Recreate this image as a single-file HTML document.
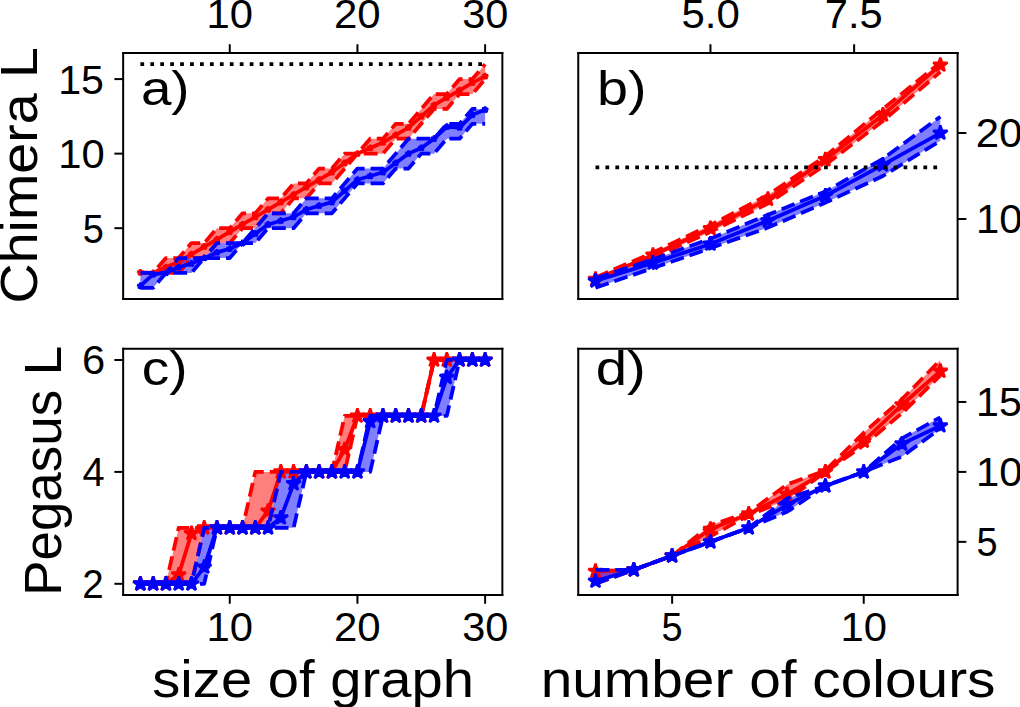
<!DOCTYPE html>
<html><head><meta charset="utf-8"><title>Chimera and Pegasus L</title>
<style>html,body{margin:0;padding:0;background:#fff;width:1020px;height:707px;overflow:hidden}svg{display:block}</style>
</head><body>
<svg width="1020" height="707" viewBox="0 0 408 282.8">
<defs>
<style type="text/css">*{stroke-linejoin: round; stroke-linecap: butt}</style>
</defs>
<g id="figure_1">
<g id="patch_1">
<path d="M 0 282.8 L 408 282.8 L 408 0 L 0 0 z
" style="fill: #ffffff"/>
</g>
<g id="axes_1">
<g id="patch_2">
<path d="M 49.26 119.6 L 200.94 119.6 L 200.94 21.2 L 49.26 21.2 z
" style="fill: #ffffff"/>
</g>
<g id="FillBetweenPolyCollection_1">
<defs>
<path id="md21ab41427" d="M 56.154545 -173.636364 L 56.154545 -173.636364 L 61.261616 -173.636364 L 66.368687 -173.636364 L 71.475758 -173.636364 L 76.582828 -179.6 L 81.689899 -179.6 L 86.79697 -185.563636 L 91.90404 -185.563636 L 97.011111 -191.527273 L 102.118182 -191.527273 L 107.225253 -197.490909 L 112.332323 -197.490909 L 117.439394 -203.454545 L 122.546465 -203.454545 L 127.653535 -209.418182 L 132.760606 -209.418182 L 137.867677 -215.381818 L 142.974747 -221.345455 L 148.081818 -221.345455 L 153.188889 -221.345455 L 158.29596 -227.309091 L 163.40303 -227.309091 L 168.510101 -233.272727 L 173.617172 -239.236364 L 178.724242 -239.236364 L 183.831313 -245.2 L 188.938384 -245.2 L 194.045455 -251.163636 L 194.045455 -257.127273 L 194.045455 -257.127273 L 188.938384 -251.163636 L 183.831313 -251.163636 L 178.724242 -245.2 L 173.617172 -245.2 L 168.510101 -239.236364 L 163.40303 -233.272727 L 158.29596 -233.272727 L 153.188889 -227.309091 L 148.081818 -227.309091 L 142.974747 -221.345455 L 137.867677 -221.345455 L 132.760606 -215.381818 L 127.653535 -215.381818 L 122.546465 -209.418182 L 117.439394 -209.418182 L 112.332323 -203.454545 L 107.225253 -203.454545 L 102.118182 -197.490909 L 97.011111 -197.490909 L 91.90404 -191.527273 L 86.79697 -191.527273 L 81.689899 -185.563636 L 76.582828 -185.563636 L 71.475758 -179.6 L 66.368687 -179.6 L 61.261616 -173.636364 L 56.154545 -173.636364 z
"/>
</defs>
<g clip-path="url(#p744a0eb53a)">
<use href="#md21ab41427" x="0" y="282.8" style="fill: #ff0000; fill-opacity: 0.5"/>
</g>
</g>
<g id="FillBetweenPolyCollection_2">
<defs>
<path id="m443bd4e529" d="M 56.154545 -173.636364 L 56.154545 -167.672727 L 61.261616 -167.672727 L 66.368687 -173.636364 L 71.475758 -173.636364 L 76.582828 -173.636364 L 81.689899 -179.6 L 86.79697 -179.6 L 91.90404 -179.6 L 97.011111 -185.563636 L 102.118182 -185.563636 L 107.225253 -191.527273 L 112.332323 -191.527273 L 117.439394 -191.527273 L 122.546465 -197.490909 L 127.653535 -197.490909 L 132.760606 -197.490909 L 137.867677 -203.454545 L 142.974747 -209.418182 L 148.081818 -209.418182 L 153.188889 -209.418182 L 158.29596 -215.381818 L 163.40303 -215.381818 L 168.510101 -221.345455 L 173.617172 -221.345455 L 178.724242 -227.309091 L 183.831313 -227.309091 L 188.938384 -233.272727 L 194.045455 -233.272727 L 194.045455 -239.236364 L 194.045455 -239.236364 L 188.938384 -239.236364 L 183.831313 -233.272727 L 178.724242 -233.272727 L 173.617172 -227.309091 L 168.510101 -227.309091 L 163.40303 -227.309091 L 158.29596 -221.345455 L 153.188889 -215.381818 L 148.081818 -215.381818 L 142.974747 -215.381818 L 137.867677 -209.418182 L 132.760606 -203.454545 L 127.653535 -203.454545 L 122.546465 -203.454545 L 117.439394 -197.490909 L 112.332323 -197.490909 L 107.225253 -197.490909 L 102.118182 -191.527273 L 97.011111 -185.563636 L 91.90404 -185.563636 L 86.79697 -185.563636 L 81.689899 -179.6 L 76.582828 -179.6 L 71.475758 -179.6 L 66.368687 -173.636364 L 61.261616 -173.636364 L 56.154545 -173.636364 z
"/>
</defs>
<g clip-path="url(#p744a0eb53a)">
<use href="#m443bd4e529" x="0" y="282.8" style="fill: #0000ff; fill-opacity: 0.5"/>
</g>
</g>
<g id="matplotlib.axis_1">
<g id="xtick_1">
<g id="line2d_1">
<defs>
<path id="mb712737b93" d="M 0 0 L 0 -3.5 " style="stroke: #000000; stroke-width: 0.8"/>
</defs>
<g>
<use href="#mb712737b93" x="91.90404" y="21.2" style="stroke: #000000; stroke-width: 0.8"/>
</g>
</g>
<g id="text_1">
<text style='font-size:16.260px;font-family:"Liberation Sans",sans-serif' x="82.598" y="11.039" transform="rotate(-0 91.90404 11.038875)" textLength="18.577" lengthAdjust="spacingAndGlyphs">10</text>
</g>
</g>
<g id="xtick_2">
<g id="line2d_2">
<g>
<use href="#mb712737b93" x="142.974747" y="21.2" style="stroke: #000000; stroke-width: 0.8"/>
</g>
</g>
<g id="text_2">
<text style='font-size:16.260px;font-family:"Liberation Sans",sans-serif' x="133.577" y="11.039" transform="rotate(-0 142.974747 11.038875)" textLength="18.672" lengthAdjust="spacingAndGlyphs">20</text>
</g>
</g>
<g id="xtick_3">
<g id="line2d_3">
<g>
<use href="#mb712737b93" x="194.045455" y="21.2" style="stroke: #000000; stroke-width: 0.8"/>
</g>
</g>
<g id="text_3">
<text style='font-size:16.260px;font-family:"Liberation Sans",sans-serif' x="184.861" y="11.039" transform="rotate(-0 194.045455 11.038875)" textLength="18.452" lengthAdjust="spacingAndGlyphs">30</text>
</g>
</g>
</g>
<g id="matplotlib.axis_2">
<g id="ytick_1">
<g id="line2d_4">
<defs>
<path id="m218b491fcb" d="M 0 0 L -3.5 0 " style="stroke: #000000; stroke-width: 0.8"/>
</defs>
<g>
<use href="#m218b491fcb" x="49.26" y="91.272727" style="stroke: #000000; stroke-width: 0.8"/>
</g>
</g>
<g id="text_4">
<text style='font-size:16.204px;font-family:"Liberation Sans",sans-serif' x="33.131" y="97.048" transform="rotate(-0 42.26 97.04754)" textLength="8.424" lengthAdjust="spacingAndGlyphs">5</text>
</g>
</g>
<g id="ytick_2">
<g id="line2d_5">
<g>
<use href="#m218b491fcb" x="49.26" y="61.454545" style="stroke: #000000; stroke-width: 0.8"/>
</g>
</g>
<g id="text_5">
<text style='font-size:16.260px;font-family:"Liberation Sans",sans-serif' x="23.283" y="67.229" transform="rotate(-0 42.26 67.229358)" textLength="18.577" lengthAdjust="spacingAndGlyphs">10</text>
</g>
</g>
<g id="ytick_3">
<g id="line2d_6">
<g>
<use href="#m218b491fcb" x="49.26" y="31.636364" style="stroke: #000000; stroke-width: 0.8"/>
</g>
</g>
<g id="text_6">
<text style='font-size:16.204px;font-family:"Liberation Sans",sans-serif' x="23.298" y="37.411" transform="rotate(-0 42.26 37.411176)" textLength="18.299" lengthAdjust="spacingAndGlyphs">15</text>
</g>
</g>
<g id="text_7">
<text style='font-size:21.088px;font-family:"Liberation Sans",sans-serif' x="-36.230" y="70.400" transform="rotate(-90 14.758625 70.4)" textLength="102.575" lengthAdjust="spacingAndGlyphs">Chimera L</text>
</g>
</g>
<g id="line2d_7">
<path d="M 56.154545 109.163636 L 61.261616 109.163636 L 66.368687 109.163636 L 71.475758 109.163636 L 76.582828 103.2 L 81.689899 103.2 L 86.79697 97.236364 L 91.90404 97.236364 L 97.011111 91.272727 L 102.118182 91.272727 L 107.225253 85.309091 L 112.332323 85.309091 L 117.439394 79.345455 L 122.546465 79.345455 L 127.653535 73.381818 L 132.760606 73.381818 L 137.867677 67.418182 L 142.974747 61.454545 L 148.081818 61.454545 L 153.188889 61.454545 L 158.29596 55.490909 L 163.40303 55.490909 L 168.510101 49.527273 L 173.617172 43.563636 L 178.724242 43.563636 L 183.831313 37.6 L 188.938384 37.6 L 194.045455 31.636364 " clip-path="url(#p744a0eb53a)" style="fill: none; stroke-dasharray: 5.55,2.4; stroke-dashoffset: 0; stroke: #ff0000; stroke-width: 1.5"/>
</g>
<g id="line2d_8">
<path d="M 56.154545 108.984727 L 61.261616 109.163636 L 66.368687 106.927273 L 71.475758 104.690909 L 76.582828 101.709091 L 81.689899 98.727273 L 86.79697 95.745455 L 91.90404 92.763636 L 97.011111 89.781818 L 102.118182 86.8 L 107.225253 83.818182 L 112.332323 80.836364 L 117.439394 77.854545 L 122.546465 74.872727 L 127.653535 71.890909 L 132.760606 68.909091 L 137.867677 65.181818 L 142.974747 61.454545 L 148.081818 59.218182 L 153.188889 56.981818 L 158.29596 54 L 163.40303 51.018182 L 168.510101 46.545455 L 173.617172 42.072727 L 178.724242 39.090909 L 183.831313 36.109091 L 188.938384 33.127273 L 194.045455 30.503273 " clip-path="url(#p744a0eb53a)" style="fill: none; stroke: #ff0000; stroke-width: 1.5; stroke-linecap: square"/>
<defs>
<path id="mcded86d60b" d="M 0 -1.25 L -0.280642 -0.386271 L -1.188821 -0.386271 L -0.454089 0.147542 L -0.734732 1.011271 L -0 0.477458 L 0.734732 1.011271 L 0.454089 0.147542 L 1.188821 -0.386271 L 0.280642 -0.386271 z
" style="stroke: #ff0000; stroke-linejoin: bevel"/>
</defs>
<g clip-path="url(#p744a0eb53a)">
<use href="#mcded86d60b" x="56.154545" y="108.984727" style="fill: #ff0000; stroke: #ff0000; stroke-linejoin: bevel"/>
<use href="#mcded86d60b" x="61.261616" y="109.163636" style="fill: #ff0000; stroke: #ff0000; stroke-linejoin: bevel"/>
<use href="#mcded86d60b" x="66.368687" y="106.927273" style="fill: #ff0000; stroke: #ff0000; stroke-linejoin: bevel"/>
<use href="#mcded86d60b" x="71.475758" y="104.690909" style="fill: #ff0000; stroke: #ff0000; stroke-linejoin: bevel"/>
<use href="#mcded86d60b" x="76.582828" y="101.709091" style="fill: #ff0000; stroke: #ff0000; stroke-linejoin: bevel"/>
<use href="#mcded86d60b" x="81.689899" y="98.727273" style="fill: #ff0000; stroke: #ff0000; stroke-linejoin: bevel"/>
<use href="#mcded86d60b" x="86.79697" y="95.745455" style="fill: #ff0000; stroke: #ff0000; stroke-linejoin: bevel"/>
<use href="#mcded86d60b" x="91.90404" y="92.763636" style="fill: #ff0000; stroke: #ff0000; stroke-linejoin: bevel"/>
<use href="#mcded86d60b" x="97.011111" y="89.781818" style="fill: #ff0000; stroke: #ff0000; stroke-linejoin: bevel"/>
<use href="#mcded86d60b" x="102.118182" y="86.8" style="fill: #ff0000; stroke: #ff0000; stroke-linejoin: bevel"/>
<use href="#mcded86d60b" x="107.225253" y="83.818182" style="fill: #ff0000; stroke: #ff0000; stroke-linejoin: bevel"/>
<use href="#mcded86d60b" x="112.332323" y="80.836364" style="fill: #ff0000; stroke: #ff0000; stroke-linejoin: bevel"/>
<use href="#mcded86d60b" x="117.439394" y="77.854545" style="fill: #ff0000; stroke: #ff0000; stroke-linejoin: bevel"/>
<use href="#mcded86d60b" x="122.546465" y="74.872727" style="fill: #ff0000; stroke: #ff0000; stroke-linejoin: bevel"/>
<use href="#mcded86d60b" x="127.653535" y="71.890909" style="fill: #ff0000; stroke: #ff0000; stroke-linejoin: bevel"/>
<use href="#mcded86d60b" x="132.760606" y="68.909091" style="fill: #ff0000; stroke: #ff0000; stroke-linejoin: bevel"/>
<use href="#mcded86d60b" x="137.867677" y="65.181818" style="fill: #ff0000; stroke: #ff0000; stroke-linejoin: bevel"/>
<use href="#mcded86d60b" x="142.974747" y="61.454545" style="fill: #ff0000; stroke: #ff0000; stroke-linejoin: bevel"/>
<use href="#mcded86d60b" x="148.081818" y="59.218182" style="fill: #ff0000; stroke: #ff0000; stroke-linejoin: bevel"/>
<use href="#mcded86d60b" x="153.188889" y="56.981818" style="fill: #ff0000; stroke: #ff0000; stroke-linejoin: bevel"/>
<use href="#mcded86d60b" x="158.29596" y="54" style="fill: #ff0000; stroke: #ff0000; stroke-linejoin: bevel"/>
<use href="#mcded86d60b" x="163.40303" y="51.018182" style="fill: #ff0000; stroke: #ff0000; stroke-linejoin: bevel"/>
<use href="#mcded86d60b" x="168.510101" y="46.545455" style="fill: #ff0000; stroke: #ff0000; stroke-linejoin: bevel"/>
<use href="#mcded86d60b" x="173.617172" y="42.072727" style="fill: #ff0000; stroke: #ff0000; stroke-linejoin: bevel"/>
<use href="#mcded86d60b" x="178.724242" y="39.090909" style="fill: #ff0000; stroke: #ff0000; stroke-linejoin: bevel"/>
<use href="#mcded86d60b" x="183.831313" y="36.109091" style="fill: #ff0000; stroke: #ff0000; stroke-linejoin: bevel"/>
<use href="#mcded86d60b" x="188.938384" y="33.127273" style="fill: #ff0000; stroke: #ff0000; stroke-linejoin: bevel"/>
<use href="#mcded86d60b" x="194.045455" y="30.503273" style="fill: #ff0000; stroke: #ff0000; stroke-linejoin: bevel"/>
</g>
</g>
<g id="line2d_9">
<path d="M 56.154545 109.163636 L 61.261616 109.163636 L 66.368687 103.2 L 71.475758 103.2 L 76.582828 97.236364 L 81.689899 97.236364 L 86.79697 91.272727 L 91.90404 91.272727 L 97.011111 85.309091 L 102.118182 85.309091 L 107.225253 79.345455 L 112.332323 79.345455 L 117.439394 73.381818 L 122.546465 73.381818 L 127.653535 67.418182 L 132.760606 67.418182 L 137.867677 61.454545 L 142.974747 61.454545 L 148.081818 55.490909 L 153.188889 55.490909 L 158.29596 49.527273 L 163.40303 49.527273 L 168.510101 43.563636 L 173.617172 37.6 L 178.724242 37.6 L 183.831313 31.636364 L 188.938384 31.636364 L 194.045455 25.672727 " clip-path="url(#p744a0eb53a)" style="fill: none; stroke-dasharray: 5.55,2.4; stroke-dashoffset: 0; stroke: #ff0000; stroke-width: 1.5"/>
</g>
<g id="line2d_10">
<path d="M 56.154545 115.127273 L 61.261616 115.127273 L 66.368687 109.163636 L 71.475758 109.163636 L 76.582828 109.163636 L 81.689899 103.2 L 86.79697 103.2 L 91.90404 103.2 L 97.011111 97.236364 L 102.118182 97.236364 L 107.225253 91.272727 L 112.332323 91.272727 L 117.439394 91.272727 L 122.546465 85.309091 L 127.653535 85.309091 L 132.760606 85.309091 L 137.867677 79.345455 L 142.974747 73.381818 L 148.081818 73.381818 L 153.188889 73.381818 L 158.29596 67.418182 L 163.40303 67.418182 L 168.510101 61.454545 L 173.617172 61.454545 L 178.724242 55.490909 L 183.831313 55.490909 L 188.938384 49.527273 L 194.045455 49.527273 " clip-path="url(#p744a0eb53a)" style="fill: none; stroke-dasharray: 5.55,2.4; stroke-dashoffset: 0; stroke: #0000ff; stroke-width: 1.5"/>
</g>
<g id="line2d_11">
<path d="M 56.154545 114.352 L 61.261616 109.76 L 66.368687 109.163636 L 71.475758 106.927273 L 76.582828 105.436364 L 81.689899 103.2 L 86.79697 100.963636 L 91.90404 99.472727 L 97.011111 97.236364 L 102.118182 93.509091 L 107.225253 89.781818 L 112.332323 88.290909 L 117.439394 86.8 L 122.546465 83.818182 L 127.653535 82.327273 L 132.760606 80.836364 L 137.867677 76.363636 L 142.974747 71.890909 L 148.081818 70.4 L 153.188889 68.909091 L 158.29596 65.181818 L 163.40303 61.454545 L 168.510101 59.218182 L 173.617172 55.490909 L 178.724242 50.72 L 183.831313 51.018182 L 188.938384 45.949091 L 194.045455 43.921455 " clip-path="url(#p744a0eb53a)" style="fill: none; stroke: #0000ff; stroke-width: 1.5; stroke-linecap: square"/>
<defs>
<path id="m93ce557f34" d="M 0 -1.25 L -0.280642 -0.386271 L -1.188821 -0.386271 L -0.454089 0.147542 L -0.734732 1.011271 L -0 0.477458 L 0.734732 1.011271 L 0.454089 0.147542 L 1.188821 -0.386271 L 0.280642 -0.386271 z
" style="stroke: #0000ff; stroke-linejoin: bevel"/>
</defs>
<g clip-path="url(#p744a0eb53a)">
<use href="#m93ce557f34" x="56.154545" y="114.352" style="fill: #0000ff; stroke: #0000ff; stroke-linejoin: bevel"/>
<use href="#m93ce557f34" x="61.261616" y="109.76" style="fill: #0000ff; stroke: #0000ff; stroke-linejoin: bevel"/>
<use href="#m93ce557f34" x="66.368687" y="109.163636" style="fill: #0000ff; stroke: #0000ff; stroke-linejoin: bevel"/>
<use href="#m93ce557f34" x="71.475758" y="106.927273" style="fill: #0000ff; stroke: #0000ff; stroke-linejoin: bevel"/>
<use href="#m93ce557f34" x="76.582828" y="105.436364" style="fill: #0000ff; stroke: #0000ff; stroke-linejoin: bevel"/>
<use href="#m93ce557f34" x="81.689899" y="103.2" style="fill: #0000ff; stroke: #0000ff; stroke-linejoin: bevel"/>
<use href="#m93ce557f34" x="86.79697" y="100.963636" style="fill: #0000ff; stroke: #0000ff; stroke-linejoin: bevel"/>
<use href="#m93ce557f34" x="91.90404" y="99.472727" style="fill: #0000ff; stroke: #0000ff; stroke-linejoin: bevel"/>
<use href="#m93ce557f34" x="97.011111" y="97.236364" style="fill: #0000ff; stroke: #0000ff; stroke-linejoin: bevel"/>
<use href="#m93ce557f34" x="102.118182" y="93.509091" style="fill: #0000ff; stroke: #0000ff; stroke-linejoin: bevel"/>
<use href="#m93ce557f34" x="107.225253" y="89.781818" style="fill: #0000ff; stroke: #0000ff; stroke-linejoin: bevel"/>
<use href="#m93ce557f34" x="112.332323" y="88.290909" style="fill: #0000ff; stroke: #0000ff; stroke-linejoin: bevel"/>
<use href="#m93ce557f34" x="117.439394" y="86.8" style="fill: #0000ff; stroke: #0000ff; stroke-linejoin: bevel"/>
<use href="#m93ce557f34" x="122.546465" y="83.818182" style="fill: #0000ff; stroke: #0000ff; stroke-linejoin: bevel"/>
<use href="#m93ce557f34" x="127.653535" y="82.327273" style="fill: #0000ff; stroke: #0000ff; stroke-linejoin: bevel"/>
<use href="#m93ce557f34" x="132.760606" y="80.836364" style="fill: #0000ff; stroke: #0000ff; stroke-linejoin: bevel"/>
<use href="#m93ce557f34" x="137.867677" y="76.363636" style="fill: #0000ff; stroke: #0000ff; stroke-linejoin: bevel"/>
<use href="#m93ce557f34" x="142.974747" y="71.890909" style="fill: #0000ff; stroke: #0000ff; stroke-linejoin: bevel"/>
<use href="#m93ce557f34" x="148.081818" y="70.4" style="fill: #0000ff; stroke: #0000ff; stroke-linejoin: bevel"/>
<use href="#m93ce557f34" x="153.188889" y="68.909091" style="fill: #0000ff; stroke: #0000ff; stroke-linejoin: bevel"/>
<use href="#m93ce557f34" x="158.29596" y="65.181818" style="fill: #0000ff; stroke: #0000ff; stroke-linejoin: bevel"/>
<use href="#m93ce557f34" x="163.40303" y="61.454545" style="fill: #0000ff; stroke: #0000ff; stroke-linejoin: bevel"/>
<use href="#m93ce557f34" x="168.510101" y="59.218182" style="fill: #0000ff; stroke: #0000ff; stroke-linejoin: bevel"/>
<use href="#m93ce557f34" x="173.617172" y="55.490909" style="fill: #0000ff; stroke: #0000ff; stroke-linejoin: bevel"/>
<use href="#m93ce557f34" x="178.724242" y="50.72" style="fill: #0000ff; stroke: #0000ff; stroke-linejoin: bevel"/>
<use href="#m93ce557f34" x="183.831313" y="51.018182" style="fill: #0000ff; stroke: #0000ff; stroke-linejoin: bevel"/>
<use href="#m93ce557f34" x="188.938384" y="45.949091" style="fill: #0000ff; stroke: #0000ff; stroke-linejoin: bevel"/>
<use href="#m93ce557f34" x="194.045455" y="43.921455" style="fill: #0000ff; stroke: #0000ff; stroke-linejoin: bevel"/>
</g>
</g>
<g id="line2d_12">
<path d="M 56.154545 109.163636 L 61.261616 109.163636 L 66.368687 109.163636 L 71.475758 103.2 L 76.582828 103.2 L 81.689899 103.2 L 86.79697 97.236364 L 91.90404 97.236364 L 97.011111 97.236364 L 102.118182 91.272727 L 107.225253 85.309091 L 112.332323 85.309091 L 117.439394 85.309091 L 122.546465 79.345455 L 127.653535 79.345455 L 132.760606 79.345455 L 137.867677 73.381818 L 142.974747 67.418182 L 148.081818 67.418182 L 153.188889 67.418182 L 158.29596 61.454545 L 163.40303 55.490909 L 168.510101 55.490909 L 173.617172 55.490909 L 178.724242 49.527273 L 183.831313 49.527273 L 188.938384 43.563636 L 194.045455 43.563636 " clip-path="url(#p744a0eb53a)" style="fill: none; stroke-dasharray: 5.55,2.4; stroke-dashoffset: 0; stroke: #0000ff; stroke-width: 1.5"/>
</g>
<g id="line2d_13">
<path d="M 56.154545 25.672727 L 194.045455 25.672727 " clip-path="url(#p744a0eb53a)" style="fill: none; stroke-dasharray: 1.5,2.475; stroke-dashoffset: 0; stroke: #000000; stroke-width: 1.5"/>
</g>
<g id="patch_3">
<path d="M 49.26 119.6 L 49.26 21.2 " style="fill: none; stroke: #000000; stroke-width: 0.8; stroke-linejoin: miter; stroke-linecap: square"/>
</g>
<g id="patch_4">
<path d="M 200.94 119.6 L 200.94 21.2 " style="fill: none; stroke: #000000; stroke-width: 0.8; stroke-linejoin: miter; stroke-linecap: square"/>
</g>
<g id="patch_5">
<path d="M 49.26 119.6 L 200.94 119.6 " style="fill: none; stroke: #000000; stroke-width: 0.8; stroke-linejoin: miter; stroke-linecap: square"/>
</g>
<g id="patch_6">
<path d="M 49.26 21.2 L 200.94 21.2 " style="fill: none; stroke: #000000; stroke-width: 0.8; stroke-linejoin: miter; stroke-linecap: square"/>
</g>
</g>
<g id="axes_2">
<g id="patch_7">
<path d="M 231.3 119.6 L 383.04 119.6 L 383.04 21.2 L 231.3 21.2 z
" style="fill: #ffffff"/>
</g>
<g id="FillBetweenPolyCollection_3">
<defs>
<path id="ma73ca0e218" d="M 238.197273 -171.801399 L 238.197273 -170.425175 L 261.188182 -179.714685 L 284.179091 -190.036364 L 307.17 -201.39021 L 330.160909 -216.872727 L 353.151818 -234.41958 L 376.142727 -254.030769 L 376.142727 -257.815385 L 376.142727 -257.815385 L 353.151818 -239.236364 L 330.160909 -220.313287 L 307.17 -204.830769 L 284.179091 -192.788811 L 261.188182 -181.779021 L 238.197273 -171.801399 z
"/>
</defs>
<g clip-path="url(#p06c29354af)">
<use href="#ma73ca0e218" x="0" y="282.8" style="fill: #ff0000; fill-opacity: 0.5"/>
</g>
</g>
<g id="FillBetweenPolyCollection_4">
<defs>
<path id="m536295fc41" d="M 238.197273 -171.457343 L 238.197273 -167.672727 L 261.188182 -175.586014 L 284.179091 -183.499301 L 307.17 -191.756643 L 330.160909 -201.734266 L 353.151818 -212.4 L 376.142727 -226.506294 L 376.142727 -236.13986 L 376.142727 -236.13986 L 353.151818 -219.281119 L 330.160909 -206.206993 L 307.17 -196.917483 L 284.179091 -187.283916 L 261.188182 -179.026573 L 238.197273 -171.457343 z
"/>
</defs>
<g clip-path="url(#p06c29354af)">
<use href="#m536295fc41" x="0" y="282.8" style="fill: #0000ff; fill-opacity: 0.5"/>
</g>
</g>
<g id="matplotlib.axis_3">
<g id="xtick_4">
<g id="line2d_14">
<g>
<use href="#mb712737b93" x="284.179091" y="21.2" style="stroke: #000000; stroke-width: 0.8"/>
</g>
</g>
<g id="text_8">
<text style='font-size:16.260px;font-family:"Liberation Sans",sans-serif' x="272.571" y="11.039" transform="rotate(-0 284.179091 11.038875)" textLength="23.332" lengthAdjust="spacingAndGlyphs">5.0</text>
</g>
</g>
<g id="xtick_5">
<g id="line2d_15">
<g>
<use href="#mb712737b93" x="341.656364" y="21.2" style="stroke: #000000; stroke-width: 0.8"/>
</g>
</g>
<g id="text_9">
<text style='font-size:16.204px;font-family:"Liberation Sans",sans-serif' x="329.945" y="11.039" transform="rotate(-0 341.656364 11.038875)" textLength="23.163" lengthAdjust="spacingAndGlyphs">7.5</text>
</g>
</g>
</g>
<g id="matplotlib.axis_4">
<g id="ytick_4">
<g id="line2d_16">
<defs>
<path id="m771bb8a15b" d="M 0 0 L 3.5 0 " style="stroke: #000000; stroke-width: 0.8"/>
</defs>
<g>
<use href="#m771bb8a15b" x="383.04" y="87.602797" style="stroke: #000000; stroke-width: 0.8"/>
</g>
</g>
<g id="text_10">
<text style='font-size:16.260px;font-family:"Liberation Sans",sans-serif' x="390.405" y="93.378" transform="rotate(-0 390.04 93.37761)" textLength="18.577" lengthAdjust="spacingAndGlyphs">10</text>
</g>
</g>
<g id="ytick_5">
<g id="line2d_17">
<g>
<use href="#m771bb8a15b" x="383.04" y="53.197203" style="stroke: #000000; stroke-width: 0.8"/>
</g>
</g>
<g id="text_11">
<text style='font-size:16.260px;font-family:"Liberation Sans",sans-serif' x="390.314" y="58.972" transform="rotate(-0 390.04 58.972015)" textLength="18.672" lengthAdjust="spacingAndGlyphs">20</text>
</g>
</g>
</g>
<g id="line2d_18">
<path d="M 238.197273 112.374825 L 261.188182 103.085315 L 284.179091 92.763636 L 307.17 81.40979 L 330.160909 65.927273 L 353.151818 48.38042 L 376.142727 28.769231 " clip-path="url(#p06c29354af)" style="fill: none; stroke-dasharray: 5.55,2.4; stroke-dashoffset: 0; stroke: #ff0000; stroke-width: 1.5"/>
</g>
<g id="line2d_19">
<path d="M 238.197273 111.686713 L 261.188182 102.053147 L 284.179091 91.387413 L 307.17 79.68951 L 330.160909 63.862937 L 353.151818 45.972028 L 376.142727 26.016783 " clip-path="url(#p06c29354af)" style="fill: none; stroke: #ff0000; stroke-width: 1.5; stroke-linecap: square"/>
<defs>
<path id="m8a235f2bb9" d="M 0 -3 L -0.673542 -0.927051 L -2.85317 -0.927051 L -1.089814 0.354102 L -1.763356 2.427051 L -0 1.145898 L 1.763356 2.427051 L 1.089814 0.354102 L 2.85317 -0.927051 L 0.673542 -0.927051 z
" style="stroke: #ff0000; stroke-linejoin: bevel"/>
</defs>
<g clip-path="url(#p06c29354af)">
<use href="#m8a235f2bb9" x="238.197273" y="111.686713" style="fill: #ff0000; stroke: #ff0000; stroke-linejoin: bevel"/>
<use href="#m8a235f2bb9" x="261.188182" y="102.053147" style="fill: #ff0000; stroke: #ff0000; stroke-linejoin: bevel"/>
<use href="#m8a235f2bb9" x="284.179091" y="91.387413" style="fill: #ff0000; stroke: #ff0000; stroke-linejoin: bevel"/>
<use href="#m8a235f2bb9" x="307.17" y="79.68951" style="fill: #ff0000; stroke: #ff0000; stroke-linejoin: bevel"/>
<use href="#m8a235f2bb9" x="330.160909" y="63.862937" style="fill: #ff0000; stroke: #ff0000; stroke-linejoin: bevel"/>
<use href="#m8a235f2bb9" x="353.151818" y="45.972028" style="fill: #ff0000; stroke: #ff0000; stroke-linejoin: bevel"/>
<use href="#m8a235f2bb9" x="376.142727" y="26.016783" style="fill: #ff0000; stroke: #ff0000; stroke-linejoin: bevel"/>
</g>
</g>
<g id="line2d_20">
<path d="M 238.197273 110.998601 L 261.188182 101.020979 L 284.179091 90.011189 L 307.17 77.969231 L 330.160909 62.486713 L 353.151818 43.563636 L 376.142727 24.984615 " clip-path="url(#p06c29354af)" style="fill: none; stroke-dasharray: 5.55,2.4; stroke-dashoffset: 0; stroke: #ff0000; stroke-width: 1.5"/>
</g>
<g id="line2d_21">
<path d="M 238.197273 115.127273 L 261.188182 107.213986 L 284.179091 99.300699 L 307.17 91.043357 L 330.160909 81.065734 L 353.151818 70.4 L 376.142727 56.293706 " clip-path="url(#p06c29354af)" style="fill: none; stroke-dasharray: 5.55,2.4; stroke-dashoffset: 0; stroke: #0000ff; stroke-width: 1.5"/>
</g>
<g id="line2d_22">
<path d="M 238.197273 112.374825 L 261.188182 105.14965 L 284.179091 97.58042 L 307.17 88.290909 L 330.160909 78.313287 L 353.151818 65.927273 L 376.142727 53.197203 " clip-path="url(#p06c29354af)" style="fill: none; stroke: #0000ff; stroke-width: 1.5; stroke-linecap: square"/>
<defs>
<path id="m97cbe48d83" d="M 0 -3 L -0.673542 -0.927051 L -2.85317 -0.927051 L -1.089814 0.354102 L -1.763356 2.427051 L -0 1.145898 L 1.763356 2.427051 L 1.089814 0.354102 L 2.85317 -0.927051 L 0.673542 -0.927051 z
" style="stroke: #0000ff; stroke-linejoin: bevel"/>
</defs>
<g clip-path="url(#p06c29354af)">
<use href="#m97cbe48d83" x="238.197273" y="112.374825" style="fill: #0000ff; stroke: #0000ff; stroke-linejoin: bevel"/>
<use href="#m97cbe48d83" x="261.188182" y="105.14965" style="fill: #0000ff; stroke: #0000ff; stroke-linejoin: bevel"/>
<use href="#m97cbe48d83" x="284.179091" y="97.58042" style="fill: #0000ff; stroke: #0000ff; stroke-linejoin: bevel"/>
<use href="#m97cbe48d83" x="307.17" y="88.290909" style="fill: #0000ff; stroke: #0000ff; stroke-linejoin: bevel"/>
<use href="#m97cbe48d83" x="330.160909" y="78.313287" style="fill: #0000ff; stroke: #0000ff; stroke-linejoin: bevel"/>
<use href="#m97cbe48d83" x="353.151818" y="65.927273" style="fill: #0000ff; stroke: #0000ff; stroke-linejoin: bevel"/>
<use href="#m97cbe48d83" x="376.142727" y="53.197203" style="fill: #0000ff; stroke: #0000ff; stroke-linejoin: bevel"/>
</g>
</g>
<g id="line2d_23">
<path d="M 238.197273 111.342657 L 261.188182 103.773427 L 284.179091 95.516084 L 307.17 85.882517 L 330.160909 76.593007 L 353.151818 63.518881 L 376.142727 46.66014 " clip-path="url(#p06c29354af)" style="fill: none; stroke-dasharray: 5.55,2.4; stroke-dashoffset: 0; stroke: #0000ff; stroke-width: 1.5"/>
</g>
<g id="line2d_24">
<path d="M 238.197273 66.959441 L 376.142727 66.959441 " clip-path="url(#p06c29354af)" style="fill: none; stroke-dasharray: 1.5,2.475; stroke-dashoffset: 0; stroke: #000000; stroke-width: 1.5"/>
</g>
<g id="patch_8">
<path d="M 231.3 119.6 L 231.3 21.2 " style="fill: none; stroke: #000000; stroke-width: 0.8; stroke-linejoin: miter; stroke-linecap: square"/>
</g>
<g id="patch_9">
<path d="M 383.04 119.6 L 383.04 21.2 " style="fill: none; stroke: #000000; stroke-width: 0.8; stroke-linejoin: miter; stroke-linecap: square"/>
</g>
<g id="patch_10">
<path d="M 231.3 119.6 L 383.04 119.6 " style="fill: none; stroke: #000000; stroke-width: 0.8; stroke-linejoin: miter; stroke-linecap: square"/>
</g>
<g id="patch_11">
<path d="M 231.3 21.2 L 383.04 21.2 " style="fill: none; stroke: #000000; stroke-width: 0.8; stroke-linejoin: miter; stroke-linecap: square"/>
</g>
</g>
<g id="axes_3">
<g id="patch_12">
<path d="M 49.26 238 L 200.94 238 L 200.94 139.52 L 49.26 139.52 z
" style="fill: #ffffff"/>
</g>
<g id="FillBetweenPolyCollection_5">
<defs>
<path id="mca79fe3946" d="M 56.154545 -49.276364 L 56.154545 -49.276364 L 61.261616 -49.276364 L 66.368687 -49.276364 L 71.475758 -49.276364 L 76.582828 -49.276364 L 81.689899 -71.658182 L 86.79697 -71.658182 L 91.90404 -71.658182 L 97.011111 -71.658182 L 102.118182 -71.658182 L 107.225253 -71.658182 L 112.332323 -94.04 L 117.439394 -94.04 L 122.546465 -94.04 L 127.653535 -94.04 L 132.760606 -94.04 L 137.867677 -94.04 L 142.974747 -116.421818 L 148.081818 -116.421818 L 153.188889 -116.421818 L 158.29596 -116.421818 L 163.40303 -116.421818 L 168.510101 -116.421818 L 173.617172 -138.803636 L 178.724242 -138.803636 L 183.831313 -138.803636 L 188.938384 -138.803636 L 194.045455 -138.803636 L 194.045455 -138.803636 L 194.045455 -138.803636 L 188.938384 -138.803636 L 183.831313 -138.803636 L 178.724242 -138.803636 L 173.617172 -138.803636 L 168.510101 -116.421818 L 163.40303 -116.421818 L 158.29596 -116.421818 L 153.188889 -116.421818 L 148.081818 -116.421818 L 142.974747 -116.421818 L 137.867677 -116.421818 L 132.760606 -94.04 L 127.653535 -94.04 L 122.546465 -94.04 L 117.439394 -94.04 L 112.332323 -94.04 L 107.225253 -94.04 L 102.118182 -94.04 L 97.011111 -71.658182 L 91.90404 -71.658182 L 86.79697 -71.658182 L 81.689899 -71.658182 L 76.582828 -71.658182 L 71.475758 -71.658182 L 66.368687 -49.276364 L 61.261616 -49.276364 L 56.154545 -49.276364 z
"/>
</defs>
<g clip-path="url(#pde6ee367d0)">
<use href="#mca79fe3946" x="0" y="282.8" style="fill: #ff0000; fill-opacity: 0.5"/>
</g>
</g>
<g id="FillBetweenPolyCollection_6">
<defs>
<path id="m18955532b7" d="M 56.154545 -49.276364 L 56.154545 -49.276364 L 61.261616 -49.276364 L 66.368687 -49.276364 L 71.475758 -49.276364 L 76.582828 -49.276364 L 81.689899 -49.276364 L 86.79697 -71.658182 L 91.90404 -71.658182 L 97.011111 -71.658182 L 102.118182 -71.658182 L 107.225253 -71.658182 L 112.332323 -71.658182 L 117.439394 -71.658182 L 122.546465 -94.04 L 127.653535 -94.04 L 132.760606 -94.04 L 137.867677 -94.04 L 142.974747 -94.04 L 148.081818 -94.04 L 153.188889 -116.421818 L 158.29596 -116.421818 L 163.40303 -116.421818 L 168.510101 -116.421818 L 173.617172 -116.421818 L 178.724242 -116.421818 L 183.831313 -138.803636 L 188.938384 -138.803636 L 194.045455 -138.803636 L 194.045455 -138.803636 L 194.045455 -138.803636 L 188.938384 -138.803636 L 183.831313 -138.803636 L 178.724242 -138.803636 L 173.617172 -116.421818 L 168.510101 -116.421818 L 163.40303 -116.421818 L 158.29596 -116.421818 L 153.188889 -116.421818 L 148.081818 -116.421818 L 142.974747 -94.04 L 137.867677 -94.04 L 132.760606 -94.04 L 127.653535 -94.04 L 122.546465 -94.04 L 117.439394 -94.04 L 112.332323 -94.04 L 107.225253 -71.658182 L 102.118182 -71.658182 L 97.011111 -71.658182 L 91.90404 -71.658182 L 86.79697 -71.658182 L 81.689899 -71.658182 L 76.582828 -49.276364 L 71.475758 -49.276364 L 66.368687 -49.276364 L 61.261616 -49.276364 L 56.154545 -49.276364 z
"/>
</defs>
<g clip-path="url(#pde6ee367d0)">
<use href="#m18955532b7" x="0" y="282.8" style="fill: #0000ff; fill-opacity: 0.5"/>
</g>
</g>
<g id="matplotlib.axis_5">
<g id="xtick_6">
<g id="line2d_25">
<defs>
<path id="m5792090d2a" d="M 0 0 L 0 3.5 " style="stroke: #000000; stroke-width: 0.8"/>
</defs>
<g>
<use href="#m5792090d2a" x="91.90404" y="238" style="stroke: #000000; stroke-width: 0.8"/>
</g>
</g>
<g id="text_12">
<text style='font-size:16.260px;font-family:"Liberation Sans",sans-serif' x="82.598" y="256.550" transform="rotate(-0 91.90404 256.549625)" textLength="18.577" lengthAdjust="spacingAndGlyphs">10</text>
</g>
</g>
<g id="xtick_7">
<g id="line2d_26">
<g>
<use href="#m5792090d2a" x="142.974747" y="238" style="stroke: #000000; stroke-width: 0.8"/>
</g>
</g>
<g id="text_13">
<text style='font-size:16.260px;font-family:"Liberation Sans",sans-serif' x="133.577" y="256.550" transform="rotate(-0 142.974747 256.549625)" textLength="18.672" lengthAdjust="spacingAndGlyphs">20</text>
</g>
</g>
<g id="xtick_8">
<g id="line2d_27">
<g>
<use href="#m5792090d2a" x="194.045455" y="238" style="stroke: #000000; stroke-width: 0.8"/>
</g>
</g>
<g id="text_14">
<text style='font-size:16.260px;font-family:"Liberation Sans",sans-serif' x="184.861" y="256.550" transform="rotate(-0 194.045455 256.549625)" textLength="18.452" lengthAdjust="spacingAndGlyphs">30</text>
</g>
</g>
<g id="text_15">
<text style='font-size:20.751px;font-family:"Liberation Sans",sans-serif' x="60.890" y="278.908" transform="rotate(-0 125.1 278.907625)" textLength="128.666" lengthAdjust="spacingAndGlyphs">size of graph</text>
</g>
</g>
<g id="matplotlib.axis_6">
<g id="ytick_6">
<g id="line2d_28">
<g>
<use href="#m218b491fcb" x="49.26" y="233.523636" style="stroke: #000000; stroke-width: 0.8"/>
</g>
</g>
<g id="text_16">
<text style='font-size:16.204px;font-family:"Liberation Sans",sans-serif' x="32.927" y="239.298" transform="rotate(-0 42.26 239.298449)" textLength="8.583" lengthAdjust="spacingAndGlyphs">2</text>
</g>
</g>
<g id="ytick_7">
<g id="line2d_29">
<g>
<use href="#m218b491fcb" x="49.26" y="188.76" style="stroke: #000000; stroke-width: 0.8"/>
</g>
</g>
<g id="text_17">
<text style='font-size:16.145px;font-family:"Liberation Sans",sans-serif' x="32.993" y="194.535" transform="rotate(-0 42.26 194.534812)" textLength="8.872" lengthAdjust="spacingAndGlyphs">4</text>
</g>
</g>
<g id="ytick_8">
<g id="line2d_30">
<g>
<use href="#m218b491fcb" x="49.26" y="143.996364" style="stroke: #000000; stroke-width: 0.8"/>
</g>
</g>
<g id="text_18">
<text style='font-size:16.260px;font-family:"Liberation Sans",sans-serif' x="32.766" y="149.771" transform="rotate(-0 42.26 149.771176)" textLength="9.280" lengthAdjust="spacingAndGlyphs">6</text>
</g>
</g>
<g id="text_19">
<text style='font-size:20.950px;font-family:"Liberation Sans",sans-serif' x="-25.149" y="188.760" transform="rotate(-90 24.429625 188.76)" textLength="100.026" lengthAdjust="spacingAndGlyphs">Pegasus L</text>
</g>
</g>
<g id="line2d_31">
<path d="M 56.154545 233.523636 L 61.261616 233.523636 L 66.368687 233.523636 L 71.475758 233.523636 L 76.582828 233.523636 L 81.689899 211.141818 L 86.79697 211.141818 L 91.90404 211.141818 L 97.011111 211.141818 L 102.118182 211.141818 L 107.225253 211.141818 L 112.332323 188.76 L 117.439394 188.76 L 122.546465 188.76 L 127.653535 188.76 L 132.760606 188.76 L 137.867677 188.76 L 142.974747 166.378182 L 148.081818 166.378182 L 153.188889 166.378182 L 158.29596 166.378182 L 163.40303 166.378182 L 168.510101 166.378182 L 173.617172 143.996364 L 178.724242 143.996364 L 183.831313 143.996364 L 188.938384 143.996364 L 194.045455 143.996364 " clip-path="url(#pde6ee367d0)" style="fill: none; stroke-dasharray: 5.55,2.4; stroke-dashoffset: 0; stroke: #ff0000; stroke-width: 1.5"/>
</g>
<g id="line2d_32">
<path d="M 56.154545 233.523636 L 61.261616 233.523636 L 66.368687 233.523636 L 71.475758 229.942545 L 76.582828 213.38 L 81.689899 211.141818 L 86.79697 211.141818 L 91.90404 211.141818 L 97.011111 211.141818 L 102.118182 211.141818 L 107.225253 204.427273 L 112.332323 188.76 L 117.439394 188.76 L 122.546465 188.76 L 127.653535 188.76 L 132.760606 188.76 L 137.867677 179.807273 L 142.974747 166.378182 L 148.081818 166.378182 L 153.188889 166.378182 L 158.29596 166.378182 L 163.40303 166.378182 L 168.510101 166.378182 L 173.617172 143.996364 L 178.724242 143.996364 L 183.831313 143.996364 L 188.938384 143.996364 L 194.045455 143.996364 " clip-path="url(#pde6ee367d0)" style="fill: none; stroke: #ff0000; stroke-width: 1.5; stroke-linecap: square"/>
<g clip-path="url(#pde6ee367d0)">
<use href="#m8a235f2bb9" x="56.154545" y="233.523636" style="fill: #ff0000; stroke: #ff0000; stroke-linejoin: bevel"/>
<use href="#m8a235f2bb9" x="61.261616" y="233.523636" style="fill: #ff0000; stroke: #ff0000; stroke-linejoin: bevel"/>
<use href="#m8a235f2bb9" x="66.368687" y="233.523636" style="fill: #ff0000; stroke: #ff0000; stroke-linejoin: bevel"/>
<use href="#m8a235f2bb9" x="71.475758" y="229.942545" style="fill: #ff0000; stroke: #ff0000; stroke-linejoin: bevel"/>
<use href="#m8a235f2bb9" x="76.582828" y="213.38" style="fill: #ff0000; stroke: #ff0000; stroke-linejoin: bevel"/>
<use href="#m8a235f2bb9" x="81.689899" y="211.141818" style="fill: #ff0000; stroke: #ff0000; stroke-linejoin: bevel"/>
<use href="#m8a235f2bb9" x="86.79697" y="211.141818" style="fill: #ff0000; stroke: #ff0000; stroke-linejoin: bevel"/>
<use href="#m8a235f2bb9" x="91.90404" y="211.141818" style="fill: #ff0000; stroke: #ff0000; stroke-linejoin: bevel"/>
<use href="#m8a235f2bb9" x="97.011111" y="211.141818" style="fill: #ff0000; stroke: #ff0000; stroke-linejoin: bevel"/>
<use href="#m8a235f2bb9" x="102.118182" y="211.141818" style="fill: #ff0000; stroke: #ff0000; stroke-linejoin: bevel"/>
<use href="#m8a235f2bb9" x="107.225253" y="204.427273" style="fill: #ff0000; stroke: #ff0000; stroke-linejoin: bevel"/>
<use href="#m8a235f2bb9" x="112.332323" y="188.76" style="fill: #ff0000; stroke: #ff0000; stroke-linejoin: bevel"/>
<use href="#m8a235f2bb9" x="117.439394" y="188.76" style="fill: #ff0000; stroke: #ff0000; stroke-linejoin: bevel"/>
<use href="#m8a235f2bb9" x="122.546465" y="188.76" style="fill: #ff0000; stroke: #ff0000; stroke-linejoin: bevel"/>
<use href="#m8a235f2bb9" x="127.653535" y="188.76" style="fill: #ff0000; stroke: #ff0000; stroke-linejoin: bevel"/>
<use href="#m8a235f2bb9" x="132.760606" y="188.76" style="fill: #ff0000; stroke: #ff0000; stroke-linejoin: bevel"/>
<use href="#m8a235f2bb9" x="137.867677" y="179.807273" style="fill: #ff0000; stroke: #ff0000; stroke-linejoin: bevel"/>
<use href="#m8a235f2bb9" x="142.974747" y="166.378182" style="fill: #ff0000; stroke: #ff0000; stroke-linejoin: bevel"/>
<use href="#m8a235f2bb9" x="148.081818" y="166.378182" style="fill: #ff0000; stroke: #ff0000; stroke-linejoin: bevel"/>
<use href="#m8a235f2bb9" x="153.188889" y="166.378182" style="fill: #ff0000; stroke: #ff0000; stroke-linejoin: bevel"/>
<use href="#m8a235f2bb9" x="158.29596" y="166.378182" style="fill: #ff0000; stroke: #ff0000; stroke-linejoin: bevel"/>
<use href="#m8a235f2bb9" x="163.40303" y="166.378182" style="fill: #ff0000; stroke: #ff0000; stroke-linejoin: bevel"/>
<use href="#m8a235f2bb9" x="168.510101" y="166.378182" style="fill: #ff0000; stroke: #ff0000; stroke-linejoin: bevel"/>
<use href="#m8a235f2bb9" x="173.617172" y="143.996364" style="fill: #ff0000; stroke: #ff0000; stroke-linejoin: bevel"/>
<use href="#m8a235f2bb9" x="178.724242" y="143.996364" style="fill: #ff0000; stroke: #ff0000; stroke-linejoin: bevel"/>
<use href="#m8a235f2bb9" x="183.831313" y="143.996364" style="fill: #ff0000; stroke: #ff0000; stroke-linejoin: bevel"/>
<use href="#m8a235f2bb9" x="188.938384" y="143.996364" style="fill: #ff0000; stroke: #ff0000; stroke-linejoin: bevel"/>
<use href="#m8a235f2bb9" x="194.045455" y="143.996364" style="fill: #ff0000; stroke: #ff0000; stroke-linejoin: bevel"/>
</g>
</g>
<g id="line2d_33">
<path d="M 56.154545 233.523636 L 61.261616 233.523636 L 66.368687 233.523636 L 71.475758 211.141818 L 76.582828 211.141818 L 81.689899 211.141818 L 86.79697 211.141818 L 91.90404 211.141818 L 97.011111 211.141818 L 102.118182 188.76 L 107.225253 188.76 L 112.332323 188.76 L 117.439394 188.76 L 122.546465 188.76 L 127.653535 188.76 L 132.760606 188.76 L 137.867677 166.378182 L 142.974747 166.378182 L 148.081818 166.378182 L 153.188889 166.378182 L 158.29596 166.378182 L 163.40303 166.378182 L 168.510101 166.378182 L 173.617172 143.996364 L 178.724242 143.996364 L 183.831313 143.996364 L 188.938384 143.996364 L 194.045455 143.996364 " clip-path="url(#pde6ee367d0)" style="fill: none; stroke-dasharray: 5.55,2.4; stroke-dashoffset: 0; stroke: #ff0000; stroke-width: 1.5"/>
</g>
<g id="line2d_34">
<path d="M 56.154545 233.523636 L 61.261616 233.523636 L 66.368687 233.523636 L 71.475758 233.523636 L 76.582828 233.523636 L 81.689899 233.523636 L 86.79697 211.141818 L 91.90404 211.141818 L 97.011111 211.141818 L 102.118182 211.141818 L 107.225253 211.141818 L 112.332323 211.141818 L 117.439394 211.141818 L 122.546465 188.76 L 127.653535 188.76 L 132.760606 188.76 L 137.867677 188.76 L 142.974747 188.76 L 148.081818 188.76 L 153.188889 166.378182 L 158.29596 166.378182 L 163.40303 166.378182 L 168.510101 166.378182 L 173.617172 166.378182 L 178.724242 166.378182 L 183.831313 143.996364 L 188.938384 143.996364 L 194.045455 143.996364 " clip-path="url(#pde6ee367d0)" style="fill: none; stroke-dasharray: 5.55,2.4; stroke-dashoffset: 0; stroke: #0000ff; stroke-width: 1.5"/>
</g>
<g id="line2d_35">
<path d="M 56.154545 233.523636 L 61.261616 233.523636 L 66.368687 233.523636 L 71.475758 233.523636 L 76.582828 233.523636 L 81.689899 226.809091 L 86.79697 211.141818 L 91.90404 211.141818 L 97.011111 211.141818 L 102.118182 211.141818 L 107.225253 211.141818 L 112.332323 207.113091 L 117.439394 193.460182 L 122.546465 188.76 L 127.653535 188.76 L 132.760606 188.76 L 137.867677 188.76 L 142.974747 188.76 L 148.081818 168.616364 L 153.188889 166.378182 L 158.29596 166.378182 L 163.40303 166.378182 L 168.510101 166.378182 L 173.617172 166.378182 L 178.724242 150.934727 L 183.831313 143.996364 L 188.938384 143.996364 L 194.045455 143.996364 " clip-path="url(#pde6ee367d0)" style="fill: none; stroke: #0000ff; stroke-width: 1.5; stroke-linecap: square"/>
<g clip-path="url(#pde6ee367d0)">
<use href="#m97cbe48d83" x="56.154545" y="233.523636" style="fill: #0000ff; stroke: #0000ff; stroke-linejoin: bevel"/>
<use href="#m97cbe48d83" x="61.261616" y="233.523636" style="fill: #0000ff; stroke: #0000ff; stroke-linejoin: bevel"/>
<use href="#m97cbe48d83" x="66.368687" y="233.523636" style="fill: #0000ff; stroke: #0000ff; stroke-linejoin: bevel"/>
<use href="#m97cbe48d83" x="71.475758" y="233.523636" style="fill: #0000ff; stroke: #0000ff; stroke-linejoin: bevel"/>
<use href="#m97cbe48d83" x="76.582828" y="233.523636" style="fill: #0000ff; stroke: #0000ff; stroke-linejoin: bevel"/>
<use href="#m97cbe48d83" x="81.689899" y="226.809091" style="fill: #0000ff; stroke: #0000ff; stroke-linejoin: bevel"/>
<use href="#m97cbe48d83" x="86.79697" y="211.141818" style="fill: #0000ff; stroke: #0000ff; stroke-linejoin: bevel"/>
<use href="#m97cbe48d83" x="91.90404" y="211.141818" style="fill: #0000ff; stroke: #0000ff; stroke-linejoin: bevel"/>
<use href="#m97cbe48d83" x="97.011111" y="211.141818" style="fill: #0000ff; stroke: #0000ff; stroke-linejoin: bevel"/>
<use href="#m97cbe48d83" x="102.118182" y="211.141818" style="fill: #0000ff; stroke: #0000ff; stroke-linejoin: bevel"/>
<use href="#m97cbe48d83" x="107.225253" y="211.141818" style="fill: #0000ff; stroke: #0000ff; stroke-linejoin: bevel"/>
<use href="#m97cbe48d83" x="112.332323" y="207.113091" style="fill: #0000ff; stroke: #0000ff; stroke-linejoin: bevel"/>
<use href="#m97cbe48d83" x="117.439394" y="193.460182" style="fill: #0000ff; stroke: #0000ff; stroke-linejoin: bevel"/>
<use href="#m97cbe48d83" x="122.546465" y="188.76" style="fill: #0000ff; stroke: #0000ff; stroke-linejoin: bevel"/>
<use href="#m97cbe48d83" x="127.653535" y="188.76" style="fill: #0000ff; stroke: #0000ff; stroke-linejoin: bevel"/>
<use href="#m97cbe48d83" x="132.760606" y="188.76" style="fill: #0000ff; stroke: #0000ff; stroke-linejoin: bevel"/>
<use href="#m97cbe48d83" x="137.867677" y="188.76" style="fill: #0000ff; stroke: #0000ff; stroke-linejoin: bevel"/>
<use href="#m97cbe48d83" x="142.974747" y="188.76" style="fill: #0000ff; stroke: #0000ff; stroke-linejoin: bevel"/>
<use href="#m97cbe48d83" x="148.081818" y="168.616364" style="fill: #0000ff; stroke: #0000ff; stroke-linejoin: bevel"/>
<use href="#m97cbe48d83" x="153.188889" y="166.378182" style="fill: #0000ff; stroke: #0000ff; stroke-linejoin: bevel"/>
<use href="#m97cbe48d83" x="158.29596" y="166.378182" style="fill: #0000ff; stroke: #0000ff; stroke-linejoin: bevel"/>
<use href="#m97cbe48d83" x="163.40303" y="166.378182" style="fill: #0000ff; stroke: #0000ff; stroke-linejoin: bevel"/>
<use href="#m97cbe48d83" x="168.510101" y="166.378182" style="fill: #0000ff; stroke: #0000ff; stroke-linejoin: bevel"/>
<use href="#m97cbe48d83" x="173.617172" y="166.378182" style="fill: #0000ff; stroke: #0000ff; stroke-linejoin: bevel"/>
<use href="#m97cbe48d83" x="178.724242" y="150.934727" style="fill: #0000ff; stroke: #0000ff; stroke-linejoin: bevel"/>
<use href="#m97cbe48d83" x="183.831313" y="143.996364" style="fill: #0000ff; stroke: #0000ff; stroke-linejoin: bevel"/>
<use href="#m97cbe48d83" x="188.938384" y="143.996364" style="fill: #0000ff; stroke: #0000ff; stroke-linejoin: bevel"/>
<use href="#m97cbe48d83" x="194.045455" y="143.996364" style="fill: #0000ff; stroke: #0000ff; stroke-linejoin: bevel"/>
</g>
</g>
<g id="line2d_36">
<path d="M 56.154545 233.523636 L 61.261616 233.523636 L 66.368687 233.523636 L 71.475758 233.523636 L 76.582828 233.523636 L 81.689899 211.141818 L 86.79697 211.141818 L 91.90404 211.141818 L 97.011111 211.141818 L 102.118182 211.141818 L 107.225253 211.141818 L 112.332323 188.76 L 117.439394 188.76 L 122.546465 188.76 L 127.653535 188.76 L 132.760606 188.76 L 137.867677 188.76 L 142.974747 188.76 L 148.081818 166.378182 L 153.188889 166.378182 L 158.29596 166.378182 L 163.40303 166.378182 L 168.510101 166.378182 L 173.617172 166.378182 L 178.724242 143.996364 L 183.831313 143.996364 L 188.938384 143.996364 L 194.045455 143.996364 " clip-path="url(#pde6ee367d0)" style="fill: none; stroke-dasharray: 5.55,2.4; stroke-dashoffset: 0; stroke: #0000ff; stroke-width: 1.5"/>
</g>
<g id="patch_13">
<path d="M 49.26 238 L 49.26 139.52 " style="fill: none; stroke: #000000; stroke-width: 0.8; stroke-linejoin: miter; stroke-linecap: square"/>
</g>
<g id="patch_14">
<path d="M 200.94 238 L 200.94 139.52 " style="fill: none; stroke: #000000; stroke-width: 0.8; stroke-linejoin: miter; stroke-linecap: square"/>
</g>
<g id="patch_15">
<path d="M 49.26 238 L 200.94 238 " style="fill: none; stroke: #000000; stroke-width: 0.8; stroke-linejoin: miter; stroke-linecap: square"/>
</g>
<g id="patch_16">
<path d="M 49.26 139.52 L 200.94 139.52 " style="fill: none; stroke: #000000; stroke-width: 0.8; stroke-linejoin: miter; stroke-linecap: square"/>
</g>
</g>
<g id="axes_4">
<g id="patch_17">
<path d="M 231.3 238 L 383.04 238 L 383.04 139.52 L 231.3 139.52 z
" style="fill: #ffffff"/>
</g>
<g id="FillBetweenPolyCollection_7">
<defs>
<path id="m209ae7a871" d="M 238.197273 -54.871818 L 238.197273 -49.276364 L 253.524545 -54.871818 L 268.851818 -60.467273 L 284.179091 -68.300909 L 299.506364 -76.694091 L 314.833636 -82.849091 L 330.160909 -94.04 L 345.488182 -104.671364 L 360.815455 -117.540909 L 376.142727 -132.648636 L 376.142727 -138.803636 L 376.142727 -138.803636 L 360.815455 -123.136364 L 345.488182 -109.707273 L 330.160909 -94.599545 L 314.833636 -89.004091 L 299.506364 -77.813182 L 284.179091 -72.777273 L 268.851818 -60.467273 L 253.524545 -54.871818 L 238.197273 -54.871818 z
"/>
</defs>
<g clip-path="url(#pac7223d01f)">
<use href="#m209ae7a871" x="0" y="282.8" style="fill: #ff0000; fill-opacity: 0.5"/>
</g>
</g>
<g id="FillBetweenPolyCollection_8">
<defs>
<path id="mb7f34d4ef8" d="M 238.197273 -54.871818 L 238.197273 -49.276364 L 253.524545 -54.871818 L 268.851818 -60.467273 L 284.179091 -66.062727 L 299.506364 -71.658182 L 314.833636 -78.092955 L 330.160909 -88.444545 L 345.488182 -94.04 L 360.815455 -100.195 L 376.142727 -111.385909 L 376.142727 -115.862273 L 376.142727 -115.862273 L 360.815455 -107.469091 L 345.488182 -94.04 L 330.160909 -88.444545 L 314.833636 -83.408636 L 299.506364 -71.658182 L 284.179091 -66.062727 L 268.851818 -60.467273 L 253.524545 -54.871818 L 238.197273 -54.871818 z
"/>
</defs>
<g clip-path="url(#pac7223d01f)">
<use href="#mb7f34d4ef8" x="0" y="282.8" style="fill: #0000ff; fill-opacity: 0.5"/>
</g>
</g>
<g id="matplotlib.axis_7">
<g id="xtick_9">
<g id="line2d_37">
<g>
<use href="#m5792090d2a" x="268.851818" y="238" style="stroke: #000000; stroke-width: 0.8"/>
</g>
</g>
<g id="text_20">
<text style='font-size:16.204px;font-family:"Liberation Sans",sans-serif' x="264.558" y="256.550" transform="rotate(-0 268.851818 256.549625)" textLength="8.424" lengthAdjust="spacingAndGlyphs">5</text>
</g>
</g>
<g id="xtick_10">
<g id="line2d_38">
<g>
<use href="#m5792090d2a" x="345.488182" y="238" style="stroke: #000000; stroke-width: 0.8"/>
</g>
</g>
<g id="text_21">
<text style='font-size:16.260px;font-family:"Liberation Sans",sans-serif' x="336.182" y="256.550" transform="rotate(-0 345.488182 256.549625)" textLength="18.577" lengthAdjust="spacingAndGlyphs">10</text>
</g>
</g>
<g id="text_22">
<text style='font-size:21.088px;font-family:"Liberation Sans",sans-serif' x="216.264" y="278.908" transform="rotate(-0 307.17 278.907625)" textLength="181.951" lengthAdjust="spacingAndGlyphs">number of colours</text>
</g>
</g>
<g id="matplotlib.axis_8">
<g id="ytick_9">
<g id="line2d_39">
<g>
<use href="#m771bb8a15b" x="383.04" y="216.737273" style="stroke: #000000; stroke-width: 0.8"/>
</g>
</g>
<g id="text_23">
<text style='font-size:16.204px;font-family:"Liberation Sans",sans-serif' x="390.582" y="222.512" transform="rotate(-0 390.04 222.512085)" textLength="8.424" lengthAdjust="spacingAndGlyphs">5</text>
</g>
</g>
<g id="ytick_10">
<g id="line2d_40">
<g>
<use href="#m771bb8a15b" x="383.04" y="188.76" style="stroke: #000000; stroke-width: 0.8"/>
</g>
</g>
<g id="text_24">
<text style='font-size:16.260px;font-family:"Liberation Sans",sans-serif' x="390.405" y="194.535" transform="rotate(-0 390.04 194.534812)" textLength="18.577" lengthAdjust="spacingAndGlyphs">10</text>
</g>
</g>
<g id="ytick_11">
<g id="line2d_41">
<g>
<use href="#m771bb8a15b" x="383.04" y="160.782727" style="stroke: #000000; stroke-width: 0.8"/>
</g>
</g>
<g id="text_25">
<text style='font-size:16.204px;font-family:"Liberation Sans",sans-serif' x="390.421" y="166.558" transform="rotate(-0 390.04 166.55754)" textLength="18.299" lengthAdjust="spacingAndGlyphs">15</text>
</g>
</g>
</g>
<g id="line2d_42">
<path d="M 238.197273 233.523636 L 253.524545 227.928182 L 268.851818 222.332727 L 284.179091 214.499091 L 299.506364 206.105909 L 314.833636 199.950909 L 330.160909 188.76 L 345.488182 178.128636 L 360.815455 165.259091 L 376.142727 150.151364 " clip-path="url(#pac7223d01f)" style="fill: none; stroke-dasharray: 5.55,2.4; stroke-dashoffset: 0; stroke: #ff0000; stroke-width: 1.5"/>
</g>
<g id="line2d_43">
<path d="M 238.197273 228.487727 L 253.524545 227.928182 L 268.851818 222.332727 L 284.179091 211.701364 L 299.506364 205.546364 L 314.833636 197.712727 L 330.160909 188.76 L 345.488182 176.45 L 360.815455 161.901818 L 376.142727 148.472727 " clip-path="url(#pac7223d01f)" style="fill: none; stroke: #ff0000; stroke-width: 1.5; stroke-linecap: square"/>
<g clip-path="url(#pac7223d01f)">
<use href="#m8a235f2bb9" x="238.197273" y="228.487727" style="fill: #ff0000; stroke: #ff0000; stroke-linejoin: bevel"/>
<use href="#m8a235f2bb9" x="253.524545" y="227.928182" style="fill: #ff0000; stroke: #ff0000; stroke-linejoin: bevel"/>
<use href="#m8a235f2bb9" x="268.851818" y="222.332727" style="fill: #ff0000; stroke: #ff0000; stroke-linejoin: bevel"/>
<use href="#m8a235f2bb9" x="284.179091" y="211.701364" style="fill: #ff0000; stroke: #ff0000; stroke-linejoin: bevel"/>
<use href="#m8a235f2bb9" x="299.506364" y="205.546364" style="fill: #ff0000; stroke: #ff0000; stroke-linejoin: bevel"/>
<use href="#m8a235f2bb9" x="314.833636" y="197.712727" style="fill: #ff0000; stroke: #ff0000; stroke-linejoin: bevel"/>
<use href="#m8a235f2bb9" x="330.160909" y="188.76" style="fill: #ff0000; stroke: #ff0000; stroke-linejoin: bevel"/>
<use href="#m8a235f2bb9" x="345.488182" y="176.45" style="fill: #ff0000; stroke: #ff0000; stroke-linejoin: bevel"/>
<use href="#m8a235f2bb9" x="360.815455" y="161.901818" style="fill: #ff0000; stroke: #ff0000; stroke-linejoin: bevel"/>
<use href="#m8a235f2bb9" x="376.142727" y="148.472727" style="fill: #ff0000; stroke: #ff0000; stroke-linejoin: bevel"/>
</g>
</g>
<g id="line2d_44">
<path d="M 238.197273 227.928182 L 253.524545 227.928182 L 268.851818 222.332727 L 284.179091 210.022727 L 299.506364 204.986818 L 314.833636 193.795909 L 330.160909 188.200455 L 345.488182 173.092727 L 360.815455 159.663636 L 376.142727 143.996364 " clip-path="url(#pac7223d01f)" style="fill: none; stroke-dasharray: 5.55,2.4; stroke-dashoffset: 0; stroke: #ff0000; stroke-width: 1.5"/>
</g>
<g id="line2d_45">
<path d="M 238.197273 233.523636 L 253.524545 227.928182 L 268.851818 222.332727 L 284.179091 216.737273 L 299.506364 211.141818 L 314.833636 204.707045 L 330.160909 194.355455 L 345.488182 188.76 L 360.815455 182.605 L 376.142727 171.414091 " clip-path="url(#pac7223d01f)" style="fill: none; stroke-dasharray: 5.55,2.4; stroke-dashoffset: 0; stroke: #0000ff; stroke-width: 1.5"/>
</g>
<g id="line2d_46">
<path d="M 238.197273 232.404545 L 253.524545 227.928182 L 268.851818 222.332727 L 284.179091 216.737273 L 299.506364 211.141818 L 314.833636 201.909318 L 330.160909 194.355455 L 345.488182 188.76 L 360.815455 177.569091 L 376.142727 170.295 " clip-path="url(#pac7223d01f)" style="fill: none; stroke: #0000ff; stroke-width: 1.5; stroke-linecap: square"/>
<g clip-path="url(#pac7223d01f)">
<use href="#m97cbe48d83" x="238.197273" y="232.404545" style="fill: #0000ff; stroke: #0000ff; stroke-linejoin: bevel"/>
<use href="#m97cbe48d83" x="253.524545" y="227.928182" style="fill: #0000ff; stroke: #0000ff; stroke-linejoin: bevel"/>
<use href="#m97cbe48d83" x="268.851818" y="222.332727" style="fill: #0000ff; stroke: #0000ff; stroke-linejoin: bevel"/>
<use href="#m97cbe48d83" x="284.179091" y="216.737273" style="fill: #0000ff; stroke: #0000ff; stroke-linejoin: bevel"/>
<use href="#m97cbe48d83" x="299.506364" y="211.141818" style="fill: #0000ff; stroke: #0000ff; stroke-linejoin: bevel"/>
<use href="#m97cbe48d83" x="314.833636" y="201.909318" style="fill: #0000ff; stroke: #0000ff; stroke-linejoin: bevel"/>
<use href="#m97cbe48d83" x="330.160909" y="194.355455" style="fill: #0000ff; stroke: #0000ff; stroke-linejoin: bevel"/>
<use href="#m97cbe48d83" x="345.488182" y="188.76" style="fill: #0000ff; stroke: #0000ff; stroke-linejoin: bevel"/>
<use href="#m97cbe48d83" x="360.815455" y="177.569091" style="fill: #0000ff; stroke: #0000ff; stroke-linejoin: bevel"/>
<use href="#m97cbe48d83" x="376.142727" y="170.295" style="fill: #0000ff; stroke: #0000ff; stroke-linejoin: bevel"/>
</g>
</g>
<g id="line2d_47">
<path d="M 238.197273 227.928182 L 253.524545 227.928182 L 268.851818 222.332727 L 284.179091 216.737273 L 299.506364 211.141818 L 314.833636 199.391364 L 330.160909 194.355455 L 345.488182 188.76 L 360.815455 175.330909 L 376.142727 166.937727 " clip-path="url(#pac7223d01f)" style="fill: none; stroke-dasharray: 5.55,2.4; stroke-dashoffset: 0; stroke: #0000ff; stroke-width: 1.5"/>
</g>
<g id="patch_18">
<path d="M 231.3 238 L 231.3 139.52 " style="fill: none; stroke: #000000; stroke-width: 0.8; stroke-linejoin: miter; stroke-linecap: square"/>
</g>
<g id="patch_19">
<path d="M 383.04 238 L 383.04 139.52 " style="fill: none; stroke: #000000; stroke-width: 0.8; stroke-linejoin: miter; stroke-linecap: square"/>
</g>
<g id="patch_20">
<path d="M 231.3 238 L 383.04 238 " style="fill: none; stroke: #000000; stroke-width: 0.8; stroke-linejoin: miter; stroke-linecap: square"/>
</g>
<g id="patch_21">
<path d="M 231.3 139.52 L 383.04 139.52 " style="fill: none; stroke: #000000; stroke-width: 0.8; stroke-linejoin: miter; stroke-linecap: square"/>
</g>
</g>
<g id="text_26">
<text style='font-size:19.600px;font-family:"Liberation Sans",sans-serif' x="56.370" y="41.975" transform="rotate(-0 56.12 43.2)" textLength="19.472" lengthAdjust="spacingAndGlyphs">a)</text>
</g>
<g id="text_27">
<text style='font-size:19.600px;font-family:"Liberation Sans",sans-serif' x="238.779" y="41.975" transform="rotate(-0 238.4 43.2)" textLength="19.818" lengthAdjust="spacingAndGlyphs">b)</text>
</g>
<g id="text_28">
<text style='font-size:19.600px;font-family:"Liberation Sans",sans-serif' x="56.746" y="153.855" transform="rotate(-0 56.6 155.08)" textLength="18.332" lengthAdjust="spacingAndGlyphs">c)</text>
</g>
<g id="text_29">
<text style='font-size:19.600px;font-family:"Liberation Sans",sans-serif' x="238.301" y="153.855" transform="rotate(-0 238.12 155.08)" textLength="20.031" lengthAdjust="spacingAndGlyphs">d)</text>
</g>
</g>
<defs>
<clipPath id="p744a0eb53a">
<rect x="49.26" y="21.2" width="151.68" height="98.4"/>
</clipPath>
<clipPath id="p06c29354af">
<rect x="231.3" y="21.2" width="151.74" height="98.4"/>
</clipPath>
<clipPath id="pde6ee367d0">
<rect x="49.26" y="139.52" width="151.68" height="98.48"/>
</clipPath>
<clipPath id="pac7223d01f">
<rect x="231.3" y="139.52" width="151.74" height="98.48"/>
</clipPath>
</defs>
</svg>

</body></html>
